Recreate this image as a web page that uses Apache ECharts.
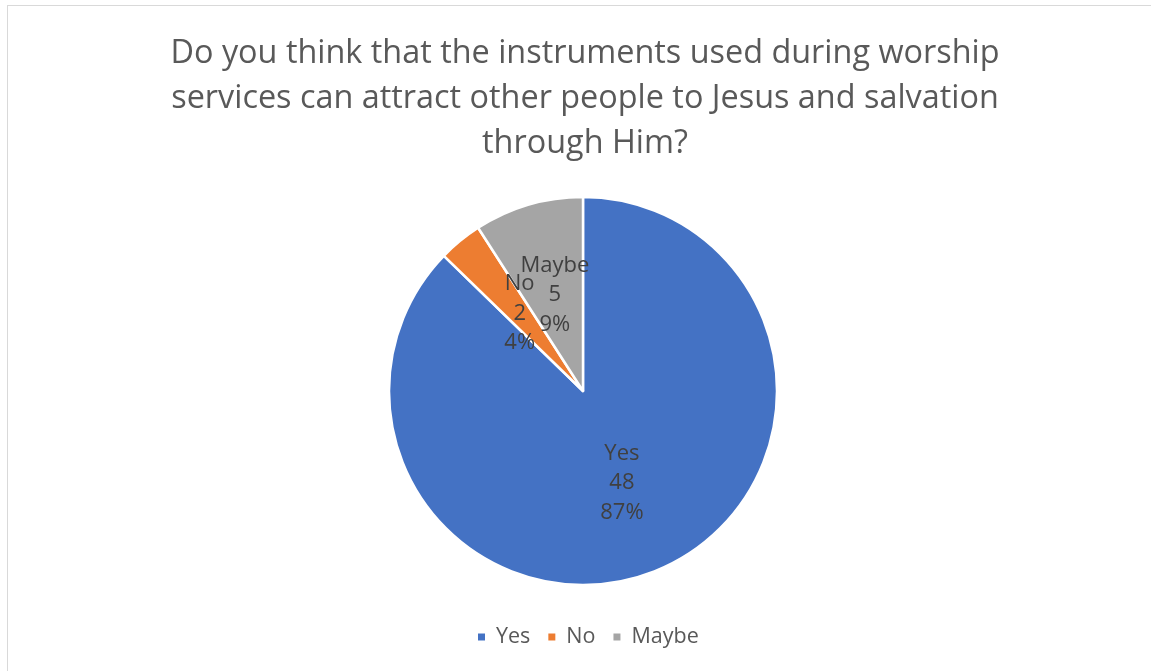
<!DOCTYPE html>
<html>
<head>
<meta charset="utf-8">
<script src="https://cdn.jsdelivr.net/npm/echarts@6/dist/echarts.min.js"></script>
<style>
  html, body { margin: 0; padding: 0; background: #fff; }
  #frame { position: absolute; left: 7px; top: 5px; width: 1160px; height: 680px; border: 1px solid #d9d9d9; box-sizing: border-box; }
  #chart { position: absolute; left: 0; top: 0; width: 1151px; height: 671px; }
</style>
</head>
<body>
<div id="frame"></div>
<div id="chart"></div>
<script>
// Survey answers
const categories = ['Yes', 'No', 'Maybe'];
const counts = [48, 2, 5];
const colors = ['#4472C4', '#ED7D31', '#A5A5A5'];
const titleText = 'Do you think that the instruments used during worship\nservices can attract other people to Jesus and salvation\nthrough Him?';

const chart = echarts.init(document.getElementById('chart'), null, { renderer: 'canvas' });

const data = categories.map((name, i) => ({
  name: name,
  value: counts[i],
  itemStyle: { color: colors[i] }
}));

chart.setOption({
  animation: false,
  title: {
    text: titleText,
    left: 580,
    top: 26,
    textAlign: 'center',
    textStyle: {
      fontFamily: 'Open Sans',
      fontSize: 32.4,
      fontWeight: 'normal',
      color: '#595959',
      lineHeight: 45
    }
  },
  legend: {
    data: categories,
    bottom: 18,
    left: 471,
    icon: 'rect',
    itemWidth: 9,
    itemHeight: 9,
    itemGap: 16,
    textStyle: { fontFamily: 'Open Sans', fontSize: 21.5, color: '#595959', padding: [0, 0, 0, 5] }
  },
  series: [{
    type: 'pie',
    center: [583, 391],
    radius: [0, 194],
    startAngle: 90,
    clockwise: true,
    percentPrecision: 0,
    data: data,
    itemStyle: { borderColor: '#ffffff', borderWidth: 2.5 },
    label: {
      show: true,
      position: 'inside',
      formatter: '{b}\n{c}\n{d}%',
      fontFamily: 'Open Sans',
      fontSize: 22,
      lineHeight: 29.5,
      color: '#404040'
    },
    labelLayout: { hideOverlap: false },
    labelLine: { show: false },
    emphasis: { disabled: true }
  }]
});
</script>
</body>
</html>
